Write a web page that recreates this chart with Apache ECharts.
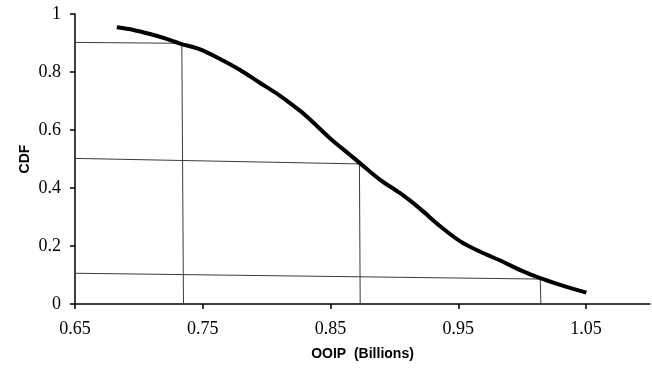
<!DOCTYPE html>
<html>
<head>
<meta charset="utf-8">
<script src="https://cdn.jsdelivr.net/npm/echarts@6/dist/echarts.min.js"></script>
<style>
  html, body { margin: 0; padding: 0; background: #fff; }
  #chart { width: 652px; height: 371px; }
</style>
</head>
<body>
<div id="chart"></div>
<script>
// CDF curve: OOIP (billions) -> cumulative probability
const ooip = [0.6827, 0.6957, 0.7087, 0.7205, 0.7322, 0.7479, 0.7635, 0.7792, 0.7949,
  0.8105, 0.8262, 0.8340, 0.8497, 0.8653, 0.8732, 0.8888, 0.9045, 0.9202, 0.9358,
  0.9515, 0.9672, 0.9828, 0.9985, 1.0141, 1.0298, 1.0502]
const cdf = [0.954, 0.945, 0.931, 0.916, 0.898, 0.878, 0.845, 0.807, 0.762,
  0.718, 0.666, 0.636, 0.571, 0.514, 0.485, 0.428, 0.382, 0.328, 0.268,
  0.216, 0.180, 0.150, 0.117, 0.089, 0.066, 0.039]

// P90 / P50 / P10 guide lines: [x, y] corner points (hand drawn, slightly sloped)
const guideP90 = [[0.65, 0.902], [0.7336, 0.899], [0.7349, 0]]
const guideP50 = [[0.65, 0.502], [0.8726, 0.483], [0.8732, 0]]
const guideP10 = [[0.65, 0.106], [1.0141, 0.086], [1.0146, 0]]

const xTicks = [0.65, 0.75, 0.85, 0.95, 1.05]
const yTicks = [0, 0.2, 0.4, 0.6, 0.8, 1]

const myChart = echarts.init(document.getElementById('chart'))

const curve = ooip.map((x, i) => [x, cdf[i]])

function guide (pts) {
  return {
    type: 'line',
    data: pts,
    symbol: 'none',
    silent: true,
    lineStyle: { color: '#3a3a3a', width: 1 },
    z: 1
  }
}

const labelFont = {
  fontFamily: 'Liberation Serif',
  fontSize: 18,
  color: '#000'
}

const option = {
  animation: false,
  grid: {
    left: 75,
    right: 2,
    top: 14,
    bottom: 67
  },
  xAxis: {
    type: 'value',
    min: 0.65,
    max: 1.1,
    name: 'OOIP  (Billions)',
    nameLocation: 'middle',
    nameGap: 43,
    nameMoveOverlap: false,
    nameTextStyle: {
      fontFamily: 'Liberation Sans',
      fontWeight: 'bold',
      fontSize: 14,
      color: '#000'
    },
    axisLine: { lineStyle: { color: '#000', width: 1.5 } },
    axisTick: {
      show: true,
      length: 5,
      customValues: xTicks,
      lineStyle: { color: '#000', width: 1.5 }
    },
    axisLabel: Object.assign({
      margin: 16,
      customValues: xTicks,
      formatter: v => v.toFixed(2)
    }, labelFont),
    splitLine: { show: false }
  },
  yAxis: {
    type: 'value',
    min: 0,
    max: 1,
    interval: 0.2,
    name: 'CDF',
    nameLocation: 'middle',
    nameGap: 43,
    nameMoveOverlap: false,
    nameTextStyle: {
      fontFamily: 'Liberation Sans',
      fontWeight: 'bold',
      fontSize: 14,
      color: '#000'
    },
    axisLine: { show: true, lineStyle: { color: '#000', width: 1.5 } },
    axisTick: {
      show: true,
      length: 5,
      lineStyle: { color: '#000', width: 1.5 }
    },
    axisLabel: Object.assign({
      margin: 14,
      formatter: v => (yTicks.indexOf(+v.toFixed(1)) >= 0 ? String(+v.toFixed(1)) : '')
    }, labelFont),
    splitLine: { show: false }
  },
  series: [
    guide(guideP90),
    guide(guideP50),
    guide(guideP10),
    {
      name: 'CDF',
      type: 'line',
      data: curve,
      symbol: 'none',
      smooth: 0.3,
      lineStyle: { color: '#000', width: 4 },
      z: 3
    }
  ]
}

myChart.setOption(option)
</script>
</body>
</html>
